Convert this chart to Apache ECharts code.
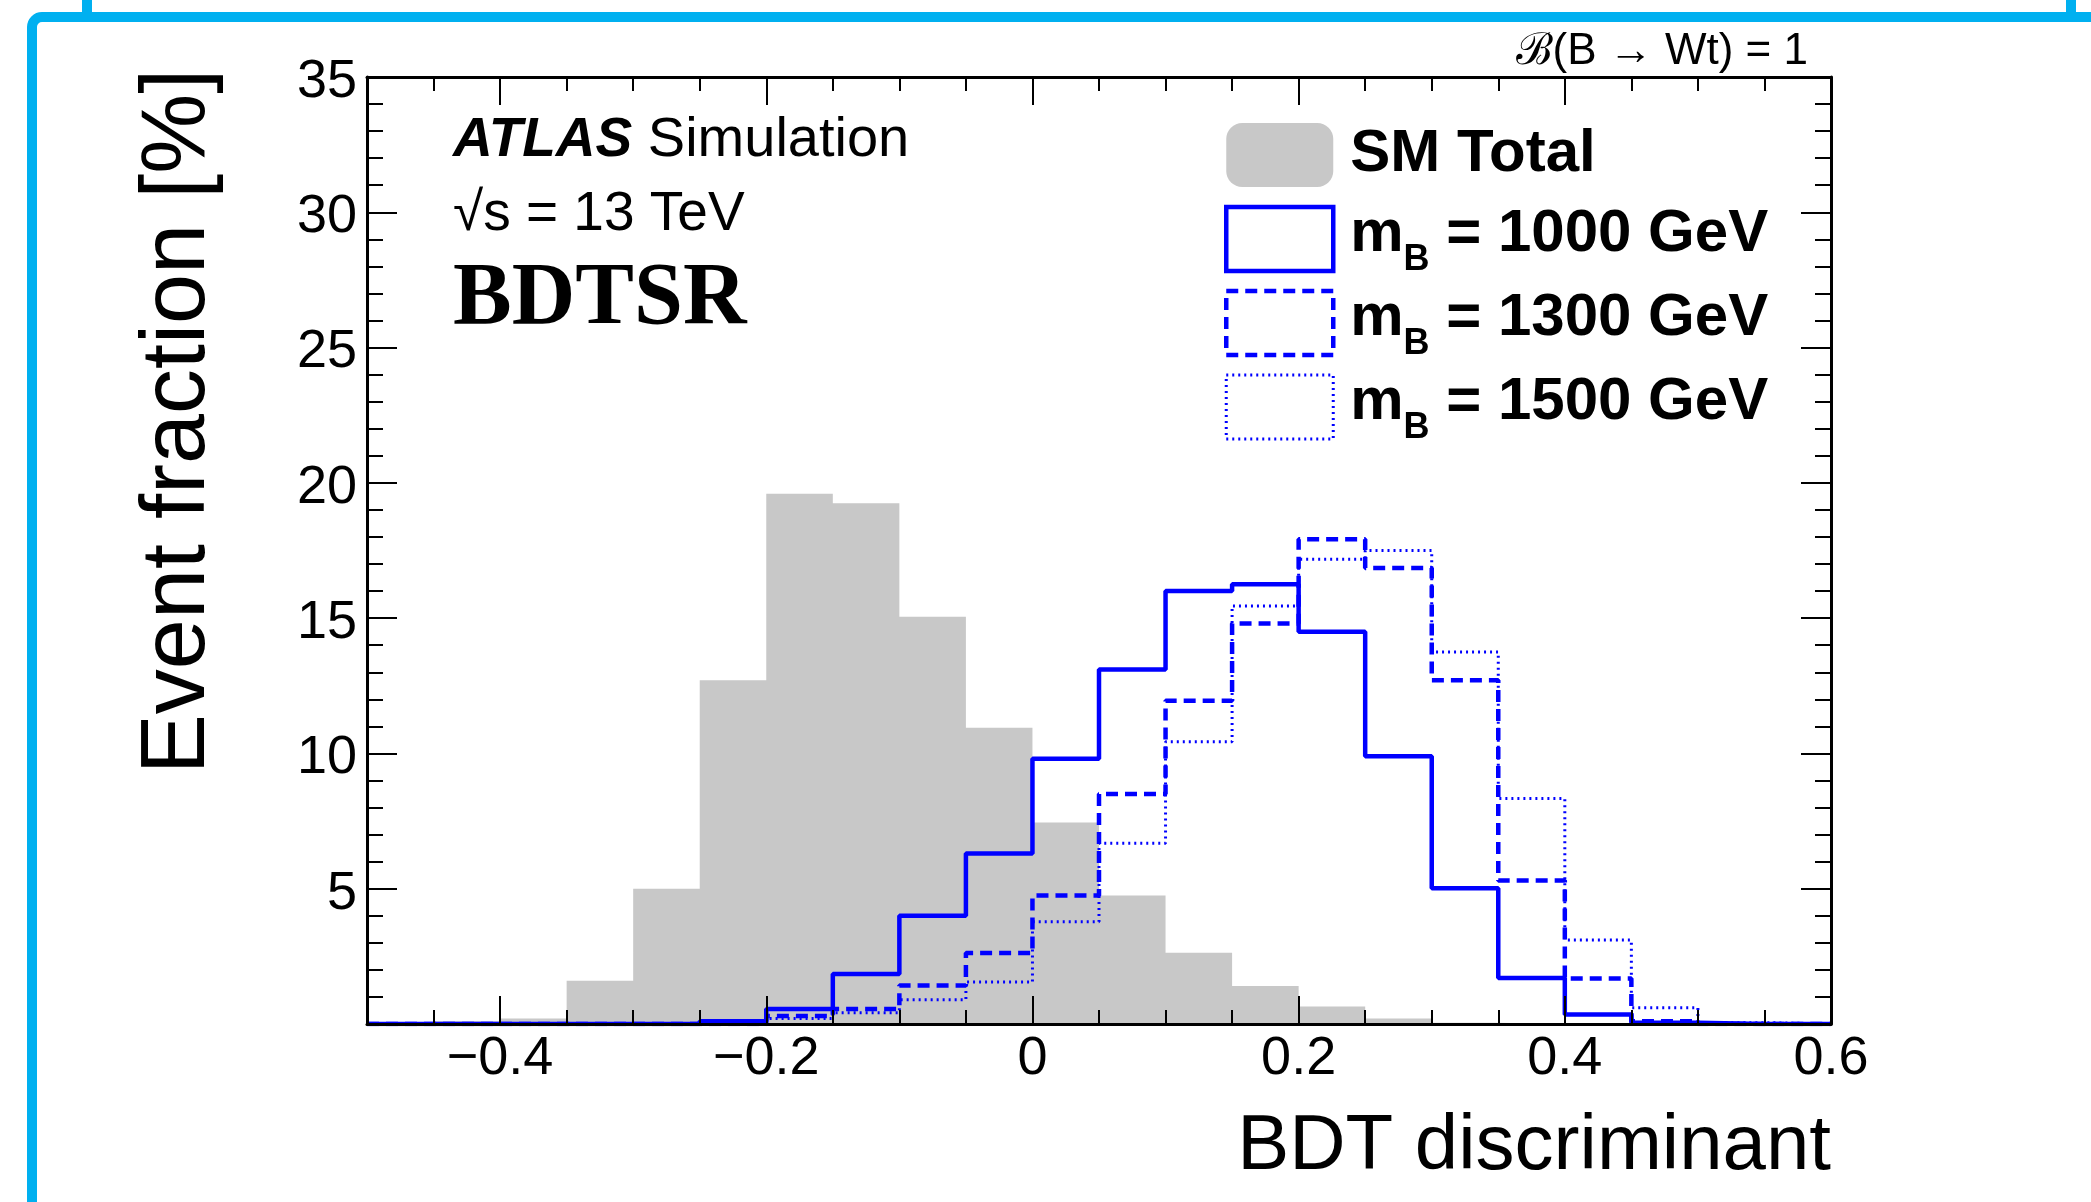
<!DOCTYPE html>
<html><head><meta charset="utf-8">
<script src="https://cdn.jsdelivr.net/npm/echarts@6/dist/echarts.min.js"></script>
<style>html,body{margin:0;padding:0;background:#fff;}#c{width:2091px;height:1202px;}</style>
</head><body><div id="c"></div>
<script>
// ---- data ----
const binEdges = [-0.5,-0.45,-0.4,-0.35,-0.3,-0.25,-0.2,-0.15,-0.1,-0.05,0,0.05,0.1,0.15,0.2,0.25,0.3,0.35,0.4,0.45,0.5,0.55,0.6];
const smTotal = [0,0.1,0.2,1.6,5.0,12.7,19.6,19.25,15.05,10.95,7.45,4.75,2.63,1.4,0.65,0.2,0.05,0,0,0,0,0];
const mB1000  = [0,0,0,0,0,0.1,0.55,1.85,4.0,6.3,9.8,13.1,16.0,16.25,14.5,9.9,5.02,1.7,0.35,0.05,0,0];
const mB1300  = [0,0,0,0,0,0,0.3,0.55,1.42,2.62,4.75,8.5,11.95,14.8,17.92,16.85,12.7,5.3,1.68,0.1,0,0];
const mB1500  = [0,0,0,0,0,0,0.2,0.42,0.9,1.55,3.78,6.68,10.43,15.45,17.18,17.5,13.75,8.33,3.1,0.6,0.05,0];
const xMajorTicks = [-0.4,-0.2,0,0.2,0.4,0.6];
const xMinorTicks = [-0.45,-0.35,-0.3,-0.25,-0.15,-0.1,-0.05,0.05,0.1,0.15,0.25,0.3,0.35,0.45,0.5,0.55];
const seriesNames = ['SM Total','m_B = 1000 GeV','m_B = 1300 GeV','m_B = 1500 GeV'];

const F = "'Liberation Sans', Arial, Helvetica, sans-serif";
const BLUE = '#0000ff';
function stepData(vals){
  const d = vals.map((v,i)=>[binEdges[i], v]);
  d.push([binEdges[binEdges.length-1], vals[vals.length-1]]);
  return d;
}
const gridRect = {left:367, top:77, width:1464, height:947, outerBoundsMode:'none', containLabel:false};
const fmtX = v => (v < 0 ? '\u2212' + Math.abs(v) : String(v));
const tickLS = {color:'#000', width:2};

const chart = echarts.init(document.getElementById('c'), null, {renderer:'canvas'});
chart.setOption({
  animation:false,
  backgroundColor:'#fff',
  grid:[Object.assign({}, gridRect), Object.assign({}, gridRect)],
  xAxis:[
    {gridIndex:0, type:'value', position:'bottom', min:-0.5, max:0.6, z:5,
     axisLine:{show:true, onZero:false, lineStyle:{color:'#000', width:3}},
     axisTick:{show:true, customValues:xMajorTicks, inside:true, length:28, lineStyle:tickLS},
     axisLabel:{show:true, customValues:xMajorTicks, formatter:fmtX, fontSize:54, fontFamily:F, color:'#000', margin:8, showMaxLabel:true, showMinLabel:true},
     splitLine:{show:false},
     name:'BDT discriminant', nameLocation:'end', nameGap:0, nameMoveOverlap:false,
     nameTextStyle:{fontSize:78, fontFamily:F, color:'#000', align:'right', verticalAlign:'top', padding:[84,0,0,0]}},
    {gridIndex:0, type:'value', position:'top', min:-0.5, max:0.6, z:5,
     axisLine:{show:true, onZero:false, lineStyle:{color:'#000', width:3}},
     axisTick:{show:true, customValues:xMajorTicks, inside:true, length:28, lineStyle:tickLS},
     axisLabel:{show:false}, splitLine:{show:false}},
    {gridIndex:1, type:'value', position:'bottom', min:-0.5, max:0.6, z:5,
     axisLine:{show:false, onZero:false},
     axisTick:{show:true, customValues:xMinorTicks, inside:true, length:14, lineStyle:tickLS},
     axisLabel:{show:false}, splitLine:{show:false}},
    {gridIndex:1, type:'value', position:'top', min:-0.5, max:0.6, z:5,
     axisLine:{show:false, onZero:false},
     axisTick:{show:true, customValues:xMinorTicks, inside:true, length:14, lineStyle:tickLS},
     axisLabel:{show:false}, splitLine:{show:false}}
  ],
  yAxis:[
    {gridIndex:0, type:'value', position:'left', min:0, max:35, interval:5, z:5,
     axisLine:{show:true, onZero:false, lineStyle:{color:'#000', width:3}},
     axisTick:{show:true, inside:true, length:30, lineStyle:tickLS},
     minorTick:{show:true, splitNumber:5, length:16, lineStyle:tickLS},
     axisLabel:{formatter:v => (v === 0 ? '' : '{v|' + v + '}'), fontSize:54, fontFamily:F, color:'#000', margin:10,
       rich:{v:{fontSize:54, fontFamily:F, color:'#000', padding:[10,0,0,0]}}},
     splitLine:{show:false}, minorSplitLine:{show:false},
     name:'Event fraction [%]', nameLocation:'middle', nameGap:143, nameMoveOverlap:false,
     nameTextStyle:{fontSize:90, fontFamily:F, color:'#000', verticalAlign:'bottom', padding:[0,0,0,258]}},
    {gridIndex:0, type:'value', position:'right', min:0, max:35, interval:5, z:5,
     axisLine:{show:true, onZero:false, lineStyle:{color:'#000', width:3}},
     axisTick:{show:true, inside:true, length:30, lineStyle:tickLS},
     minorTick:{show:true, splitNumber:5, length:16, lineStyle:tickLS},
     axisLabel:{show:false}, splitLine:{show:false}, minorSplitLine:{show:false}},
    {gridIndex:1, type:'value', show:false, min:0, max:35}
  ],
  legend:{
    orient:'vertical', left:1224, top:123, padding:0, itemWidth:107, itemHeight:64, itemGap:10,
    selectedMode:false,
    data:[
      {name:seriesNames[0], icon:'roundRect', itemStyle:{color:'#c8c8c8', borderWidth:0}},
      {name:seriesNames[1], icon:'rect', itemStyle:{color:'rgba(0,0,0,0)', borderColor:BLUE, borderWidth:4.5, borderType:'solid'}},
      {name:seriesNames[2], icon:'rect', itemStyle:{color:'rgba(0,0,0,0)', borderColor:BLUE, borderWidth:4.5, borderType:[12,7]}},
      {name:seriesNames[3], icon:'rect', itemStyle:{color:'rgba(0,0,0,0)', borderColor:BLUE, borderWidth:3, borderType:[2,4]}}
    ],
    formatter: function(name){
      if (name.indexOf('m_B') === 0) {
        return '{m|m}{s|B}{t|' + name.slice(3) + '}';
      }
      return '{p|' + name + '}{e| }';
    },
    textStyle:{color:'#000', fontFamily:F, fontSize:60, fontWeight:'bold',
      rich:{
        p:{fontSize:60, fontWeight:'bold', fontFamily:F, color:'#000', verticalAlign:'top', padding:[8,0,0,12]},
        m:{fontSize:60, fontWeight:'bold', fontFamily:F, color:'#000', verticalAlign:'top', padding:[4,0,0,12]},
        t:{fontSize:60, fontWeight:'bold', fontFamily:F, color:'#000', verticalAlign:'top', padding:[4,0,0,0]},
        s:{fontSize:36, fontWeight:'bold', fontFamily:F, color:'#000', verticalAlign:'bottom', padding:[42,0,0,0]},
        e:{fontSize:36, fontFamily:F, color:'#000', verticalAlign:'bottom', padding:[42,0,0,0]}
      }}
  },
  series:[
    {name:seriesNames[0], type:'line', xAxisIndex:0, yAxisIndex:0, step:'end', data:stepData(smTotal),
     symbol:'none', showSymbol:false, lineStyle:{width:0, color:'#c8c8c8'}, itemStyle:{color:'#c8c8c8'},
     areaStyle:{color:'#c8c8c8', opacity:1}, z:1},
    {name:seriesNames[1], type:'line', xAxisIndex:0, yAxisIndex:0, step:'end', data:stepData(mB1000),
     symbol:'none', showSymbol:false, lineStyle:{width:4.5, color:BLUE, type:'solid', cap:'butt'}, itemStyle:{color:BLUE}, z:2},
    {name:seriesNames[2], type:'line', xAxisIndex:0, yAxisIndex:0, step:'end', data:stepData(mB1300),
     symbol:'none', showSymbol:false, lineStyle:{width:4.5, color:BLUE, type:[12,7], cap:'butt'}, itemStyle:{color:BLUE}, z:2},
    {name:seriesNames[3], type:'line', xAxisIndex:0, yAxisIndex:0, step:'end', data:stepData(mB1500),
     symbol:'none', showSymbol:false, lineStyle:{width:3, color:BLUE, type:[2,4], cap:'butt'}, itemStyle:{color:BLUE}, z:2}
  ],
  graphic:[
    {type:'rect', silent:true, z:100, shape:{x:87, y:-100, width:1984, height:117},
     style:{fill:'none', stroke:'#00b0f0', lineWidth:10}},
    {type:'rect', silent:true, z:100, shape:{x:32, y:17, width:2200, height:1400, r:10},
     style:{fill:'none', stroke:'#00b0f0', lineWidth:10}},
    {type:'text', silent:true, z:50, x:453, y:141,
     style:{text:'{a|ATLAS}{b| Simulation}', verticalAlign:'middle', align:'left',
       rich:{a:{fontSize:55, fontStyle:'italic', fontWeight:'bold', fontFamily:F, fill:'#000'},
             b:{fontSize:56, fontFamily:F, fill:'#000'}}}},
    {type:'text', silent:true, z:50, x:453, y:215,
     style:{text:'\u221As = 13 TeV', fontSize:55, fontFamily:F, fill:'#000', verticalAlign:'middle', align:'left'}},
    {type:'text', silent:true, z:50, x:453, y:300,
     style:{text:'BDTSR', fontSize:88, fontWeight:'bold', fontFamily:"'Liberation Serif', 'Times New Roman', serif", fill:'#000', verticalAlign:'middle', align:'left'}},
    {type:'text', silent:true, z:50, x:1808, y:52,
     style:{text:'\u212C(B \u2192 Wt) = 1', fontSize:44, fontFamily:F, fill:'#000', verticalAlign:'middle', align:'right'}}
  ]
});
</script></body></html>
